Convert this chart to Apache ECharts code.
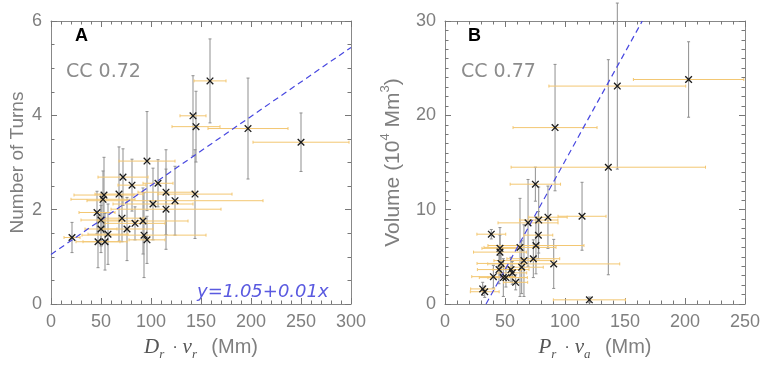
<!DOCTYPE html>
<html>
<head>
<meta charset="utf-8">
<script src="https://cdn.jsdelivr.net/npm/echarts@6/dist/echarts.min.js"></script>
<style>
  html, body { margin: 0; padding: 0; background: #fff; }
  #main { width: 765px; height: 369px; }
</style>
</head>
<body>
<div id="main"></div>
<script>
// panel A: number of turns vs D_r * v_r
var aX    = [21, 46, 50, 50, 53, 52, 47, 54, 57, 68, 71, 72, 81, 76, 84, 92, 93, 96, 96, 102, 107, 115, 115, 124, 144, 142, 145, 159, 197, 250];
var aY    = [1.41, 1.94, 1.78, 1.59, 2.31, 2.22, 1.32, 1.32, 1.48, 2.33, 1.82, 2.69, 2.52, 1.59, 1.71, 1.76, 1.46, 1.36, 3.03, 2.12, 2.56, 2.37, 2.01, 2.19, 2.33, 3.99, 3.76, 4.73, 3.72, 3.43];
var aXErr = [8, 18, 20, 16, 30, 32, 22, 22, 20, 24, 22, 25, 14, 26, 30, 45, 62, 18, 28, 40, 15, 28, 55, 88, 37, 13, 24, 16, 40, 48];
var aYErr = [0.32, 0.45, 0.55, 0.5, 0.8, 0.6, 0.55, 0.6, 0.64, 1.0, 0.5, 0.6, 0.55, 0.67, 0.35, 0.7, 0.9, 0.5, 1.05, 0.76, 0.5, 0.9, 0.85, 0.73, 0.94, 0.85, 0.75, 0.89, 1.07, 0.62];
var aFitX = [0, 300];
var aFitY = [1.05, 5.44];
var aXTicks = [0, 300, 50];
var aYTicks = [0, 6, 2];

// panel B: volume vs P_r * v_a
var bX    = [143.6, 203, 91.7, 136.1, 75.3, 114.2, 85.8, 78.1, 69.2, 38.6, 77.8, 75.8, 62.5, 45.8, 45.8, 73.6, 65.8, 46.7, 90.6, 63.9, 45, 55, 56.1, 40.3, 50.8, 48.6, 58.9, 31.4, 33.1, 120.3];
var bY    = [23.1, 23.8, 18.7, 14.5, 12.7, 9.3, 9.2, 8.9, 8.6, 7.4, 7.3, 6.2, 6.0, 5.9, 5.5, 4.8, 4.6, 4.3, 4.25, 3.9, 3.65, 3.65, 3.3, 2.9, 2.8, 2.8, 2.3, 1.6, 1.3, 0.44];
var bXErr = [57, 46, 35, 81, 21, 20, 16, 16, 25, 12, 12, 40, 30, 15, 22, 22, 25, 20, 55, 18, 18, 15, 12, 18, 15, 20, 10, 10, 12, 30];
var bYErr = [8.8, 4.0, 6.7, 11.4, 1.8, 3.6, 3.3, 3.5, 4.6, 0.5, 2.5, 3.0, 5.2, 1.4, 2.6, 2.0, 3.8, 1.5, 2.6, 2.8, 1.5, 1.3, 1.2, 1.2, 1.0, 2.0, 0.8, 0.7, 0.6, 0.3];
var bFitX = [34.2, 164.4];
var bFitY = [0, 30];
var bXTicks = [0, 250, 50];
var bYTicks = [0, 30, 10];

var grey = '#888';
var tickGrey = '#777';
var labelGrey = '#7f7f7f';
var sans = 'Liberation Sans';
var serif = 'Liberation Serif';

function pack(xs, ys, xe, ye) {
	var out = [];
	for (var i = 0; i < xs.length; i++) out.push([xs[i], ys[i], xe[i], ye[i]]);
	return out;
}
function line(xs, ys) {
	return xs.map(function (v, i) { return [v, ys[i]]; });
}

// axis builder, mirror = box side without labels
function axis(grid, pos, ticks, minor, mirror, extra) {
	var a = {
		type: 'value',
		gridIndex: grid,
		position: pos,
		min: ticks[0], max: ticks[1], interval: ticks[2],
		axisLine: { show: true, onZero: false, lineStyle: { color: grey, width: 1 } },
		axisTick: { show: true, inside: true, length: 6, lineStyle: { color: tickGrey } },
		minorTick: { show: true, splitNumber: minor, length: 3.5, lineStyle: { color: tickGrey } },
		splitLine: { show: false },
		axisLabel: { show: !mirror, color: labelGrey, fontFamily: sans, fontSize: 18, margin: 9 }
	};
	if (extra) for (var k in extra) a[k] = extra[k];
	return a;
}

function vBars(params, api) {
	var x = api.value(0), y = api.value(1), ye = api.value(3);
	var t = api.coord([x, y + ye]), b = api.coord([x, y - ye]);
	var st = { stroke: '#8f8f8f', lineWidth: 1 };
	return { type: 'group', children: [
		{ type: 'line', shape: { x1: t[0], y1: t[1], x2: b[0], y2: b[1] }, style: st },
		{ type: 'line', shape: { x1: t[0] - 1.5, y1: t[1], x2: t[0] + 1.5, y2: t[1] }, style: st },
		{ type: 'line', shape: { x1: b[0] - 1.5, y1: b[1], x2: b[0] + 1.5, y2: b[1] }, style: st }
	] };
}
function hBars(params, api) {
	var x = api.value(0), y = api.value(1), xe = api.value(2);
	var l = api.coord([x - xe, y]), r = api.coord([x + xe, y]);
	var st = { stroke: '#f3c772', lineWidth: 1 };
	return { type: 'group', children: [
		{ type: 'line', shape: { x1: l[0], y1: l[1], x2: r[0], y2: r[1] }, style: st },
		{ type: 'line', shape: { x1: l[0], y1: l[1] - 1.5, x2: l[0], y2: l[1] + 1.5 }, style: st },
		{ type: 'line', shape: { x1: r[0], y1: r[1] - 1.5, x2: r[0], y2: r[1] + 1.5 }, style: st }
	] };
}
function crosses(params, api) {
	var c = api.coord([api.value(0), api.value(1)]);
	var m = 3.3;
	var st = { stroke: '#1a1a1a', lineWidth: 1.3 };
	return { type: 'group', children: [
		{ type: 'line', shape: { x1: c[0] - m, y1: c[1] - m, x2: c[0] + m, y2: c[1] + m }, style: st },
		{ type: 'line', shape: { x1: c[0] - m, y1: c[1] + m, x2: c[0] + m, y2: c[1] - m }, style: st }
	] };
}

function errSeries(data, xi, yi) {
	var base = { type: 'custom', xAxisIndex: xi, yAxisIndex: yi, data: data, encode: { x: 0, y: 1 }, clip: false, silent: true };
	return [
		Object.assign({}, base, { renderItem: vBars, z: 2 }),
		Object.assign({}, base, { renderItem: hBars, z: 3 }),
		Object.assign({}, base, { renderItem: crosses, z: 5 })
	];
}

var nameRich = {
	it: { fontFamily: serif, fontStyle: 'italic', fontSize: 21, color: '#555', lineHeight: 28 },
	sub: { fontFamily: serif, fontStyle: 'italic', fontSize: 13, color: '#555', lineHeight: 13, verticalAlign: 'bottom' },
	dot: { fontFamily: sans, fontSize: 17, color: '#555', lineHeight: 28 },
	n: { fontFamily: sans, fontSize: 20, color: labelGrey, lineHeight: 28 },
	vn: { fontFamily: sans, fontSize: 21, color: labelGrey, lineHeight: 28 },
	sup: { fontFamily: sans, fontSize: 13, color: labelGrey, lineHeight: 13, verticalAlign: 'top' }
};

var chartObj = echarts.init(document.getElementById('main'));

var option = {
	animation: false,
	backgroundColor: '#fff',
	grid: [
		{ left: 51, top: 21, width: 300, height: 283 },
		{ left: 445, top: 21, width: 300, height: 283 }
	],
	xAxis: [
		axis(0, 'bottom', aXTicks, 5, false, {
			name: '{it|D}{sub|r }{dot| · }{it|v}{sub|r }{n|  (Mm)}', nameLocation: 'middle', nameGap: 29,
			nameTextStyle: { rich: nameRich }
		}),
		axis(0, 'top', aXTicks, 5, true),
		axis(1, 'bottom', bXTicks, 5, false, {
			name: '{it|P}{sub|r }{dot| · }{it|v}{sub|a }{n|  (Mm)}', nameLocation: 'middle', nameGap: 29,
			nameTextStyle: { rich: nameRich }
		}),
		axis(1, 'top', bXTicks, 5, true)
	],
	yAxis: [
		axis(0, 'left', aYTicks, 4, false, {
			name: 'Number of Turns', nameLocation: 'middle', nameGap: 24,
			nameTextStyle: { color: labelGrey, fontFamily: sans, fontSize: 19 }
		}),
		axis(0, 'right', aYTicks, 4, true),
		axis(1, 'left', bYTicks, 10, false, {
			name: '{vn|Volume (10}{sup|4}{vn| Mm}{sup|3}{vn|)}', nameLocation: 'middle', nameGap: 38,
			nameTextStyle: { rich: nameRich }
		}),
		axis(1, 'right', bYTicks, 10, true)
	],
	graphic: [
		{ type: 'text', left: 75, top: 27, style: { text: 'A', font: 'bold 18px "Liberation Sans"', fill: '#000' } },
		{ type: 'text', left: 468, top: 27, style: { text: 'B', font: 'bold 18px "Liberation Sans"', fill: '#000' } },
		{ type: 'text', left: 66, top: 63, style: { text: 'CC 0.72', font: '19px "DejaVu Sans"', fill: '#8c8c8c' } },
		{ type: 'text', left: 461, top: 63, style: { text: 'CC 0.77', font: '19px "DejaVu Sans"', fill: '#8c8c8c' } },
		{ type: 'text', left: 197, top: 283, style: { text: 'y=1.05+0.01x', font: 'italic 18px "DejaVu Sans"', fill: '#5a5ae0' } }
	],
	series: [].concat(
		errSeries(pack(aX, aY, aXErr, aYErr), 0, 0),
		errSeries(pack(bX, bY, bXErr, bYErr), 2, 2),
		[
			{ type: 'line', xAxisIndex: 0, yAxisIndex: 0, data: line(aFitX, aFitY), showSymbol: false, silent: true, z: 4,
				lineStyle: { color: '#4848e0', width: 1.2, type: [6, 4] } },
			{ type: 'line', xAxisIndex: 2, yAxisIndex: 2, data: line(bFitX, bFitY), showSymbol: false, silent: true, z: 4,
				lineStyle: { color: '#4848e0', width: 1.2, type: [6, 4] } }
		]
	)
};
chartObj.setOption(option);
</script>
</body>
</html>
